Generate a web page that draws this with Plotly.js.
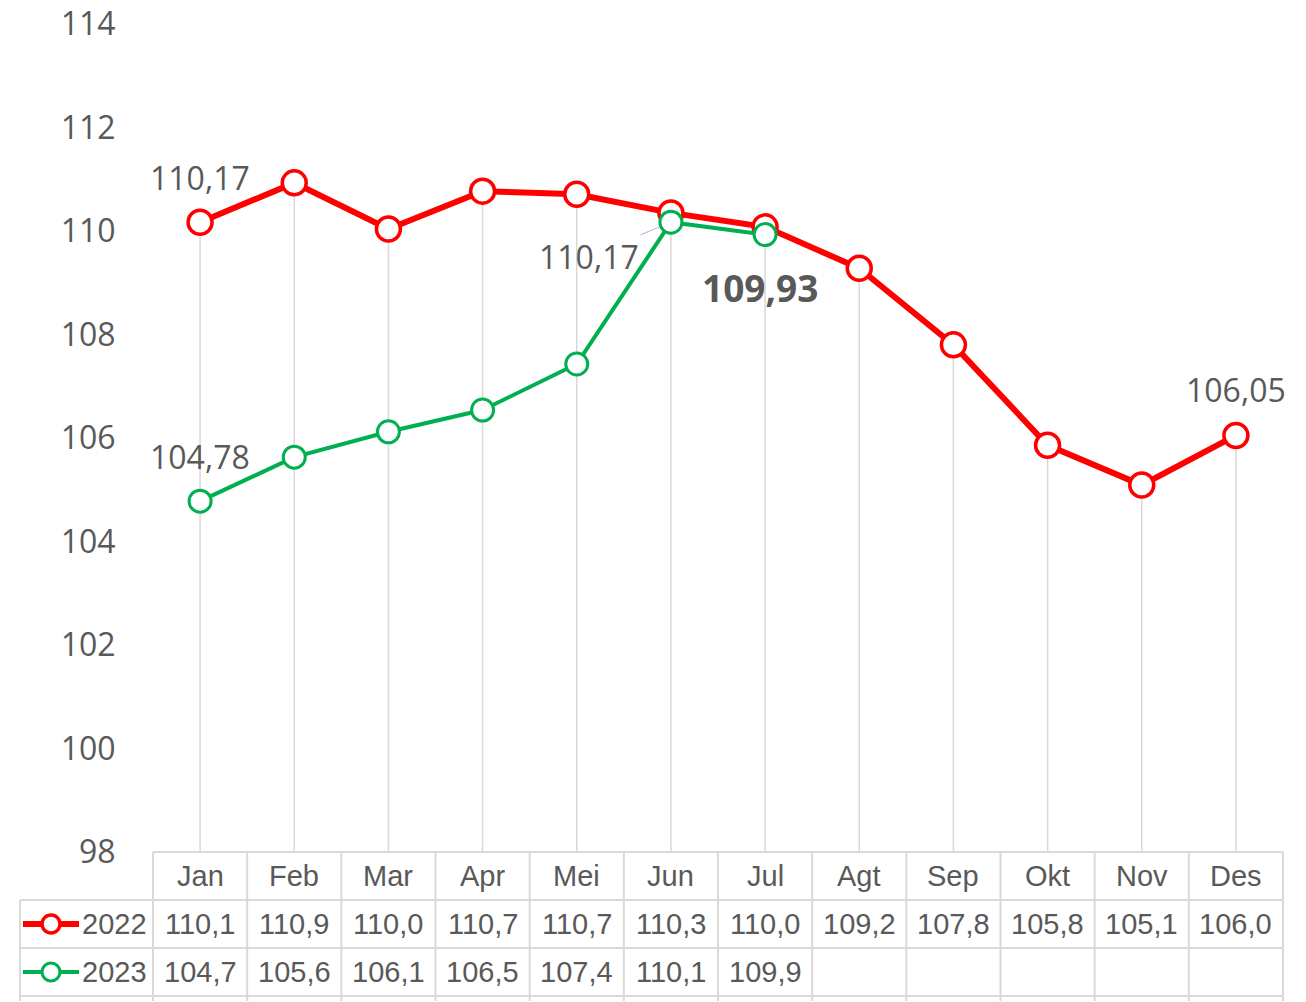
<!DOCTYPE html>
<html>
<head>
<meta charset="utf-8">
<script src="https://cdn.plot.ly/plotly-3.0.1.min.js"></script>
<style>html,body{margin:0;padding:0;background:#fff;}#chart{width:1306px;height:1002px;}</style>
</head>
<body>
<div id="chart"></div>
<script>
// ---- data ----
const months = ['Jan','Feb','Mar','Apr','Mei','Jun','Jul','Agt','Sep','Okt','Nov','Des'];
const seriesNames = ['2022','2023'];
const values2022 = [110.17,110.93,110.04,110.77,110.71,110.35,110.08,109.28,107.80,105.86,105.09,106.05];
const values2023 = [104.78,105.63,106.12,106.54,107.43,110.17,109.93];
const table2022 = ['110,1','110,9','110,0','110,7','110,7','110,3','110,0','109,2','107,8','105,8','105,1','106,0'];
const table2023 = ['104,7','105,6','106,1','106,5','107,4','110,1','109,9','','','','',''];
const yTicks = [98,100,102,104,106,108,110,112,114];

const RED = '#ff0000', GREEN = '#00b050', GRAY = '#595959', LINE = '#d9d9d9';
const W = 1306, H = 1002, L = 153, R = 23, T = 24, B = 150;
const PW = W - L - R, PH = H - T - B;
const px2x = p => (p - L) / PW;       // pixel -> paper x
const py2y = p => (H - B - p) / PH;   // pixel -> paper y
const fmt = v => v.toFixed(2).replace('.', ',');
const tableFont = 'Liberation Sans, Arial, sans-serif';
const labelFont = 'Open Sans, Noto Sans, sans-serif';
const TS = 29;

const traces = [
  {x: months, y: values2022, name: seriesNames[0], type: 'scatter', mode: 'lines+markers',
   line: {color: RED, width: 6}, cliponaxis: false,
   marker: {symbol: 'circle', size: 24, color: '#ffffff', line: {color: RED, width: 3.5}}},
  {x: months.slice(0, values2023.length), y: values2023, name: seriesNames[1], type: 'scatter', mode: 'lines+markers',
   line: {color: GREEN, width: 4}, cliponaxis: false,
   marker: {symbol: 'circle', size: 22, color: '#ffffff', line: {color: GREEN, width: 3}}}
];

const shapes = [];
// drop lines
months.forEach((m, i) => {
  const top = Math.max(values2022[i], i < values2023.length ? values2023[i] : -Infinity);
  shapes.push({type: 'line', xref: 'x', yref: 'y', x0: m, x1: m, y0: yTicks[0], y1: top,
               line: {color: LINE, width: 1.5}, layer: 'below'});
});
// data table grid
const rowTop = 852, rowH = 48, leftX = 20;
const tl = (x0, y0, x1, y1) => shapes.push({type: 'line', xref: 'paper', yref: 'paper',
  x0: px2x(x0), x1: px2x(x1), y0: py2y(y0), y1: py2y(y1), line: {color: LINE, width: 2}});
tl(L, rowTop, W - R, rowTop);
for (let r = 1; r <= 3; r++) tl(leftX, rowTop + r * rowH, W - R, rowTop + r * rowH);
tl(L, rowTop, L, rowTop + 3 * rowH);
tl(leftX, rowTop + rowH, leftX, rowTop + 3 * rowH);
for (let i = 1; i <= months.length; i++) {
  const xp = L + PW * i / months.length;
  tl(xp, rowTop, xp, rowTop + 3 * rowH);
  tl(xp, rowTop + 3 * rowH, xp, rowTop + 3 * rowH + 5);
}
tl(L, rowTop + 3 * rowH, L, rowTop + 3 * rowH + 5);
tl(leftX, rowTop + 3 * rowH, leftX, rowTop + 3 * rowH + 5);
// legend keys in table
[[RED, 3.5, 6], [GREEN, 3, 4]].forEach(([c, bw, lw], k) => {
  const cy = rowTop + (k + 1.5) * rowH;
  shapes.push({type: 'line', xref: 'paper', yref: 'paper', x0: px2x(23), x1: px2x(79),
    y0: py2y(cy), y1: py2y(cy), line: {color: c, width: lw}});
  shapes.push({type: 'circle', xref: 'paper', yref: 'paper', x0: px2x(42), x1: px2x(60),
    y0: py2y(cy - 9), y1: py2y(cy + 9), fillcolor: '#ffffff', line: {color: c, width: bw}});
});

const annotations = [];
// table texts
months.forEach((m, i) => {
  annotations.push({xref: 'x', yref: 'paper', x: m, y: py2y(rowTop + 0.5 * rowH), text: m, showarrow: false,
    font: {family: tableFont, size: TS, color: GRAY}, yanchor: 'middle'});
  annotations.push({xref: 'x', yref: 'paper', x: m, y: py2y(rowTop + 1.5 * rowH), text: table2022[i], showarrow: false,
    font: {family: tableFont, size: TS, color: GRAY}, yanchor: 'middle'});
  if (table2023[i]) annotations.push({xref: 'x', yref: 'paper', x: m, y: py2y(rowTop + 2.5 * rowH), text: table2023[i], showarrow: false,
    font: {family: tableFont, size: TS, color: GRAY}, yanchor: 'middle'});
});
seriesNames.forEach((s, k) => {
  annotations.push({xref: 'paper', yref: 'paper', x: px2x(114), y: py2y(rowTop + (k + 1.5) * rowH), text: s,
    showarrow: false, font: {family: tableFont, size: TS, color: GRAY}, xanchor: 'center', yanchor: 'middle'});
});
// data labels
const lab = (x, y, opts) => annotations.push(Object.assign({xref: 'x', yref: 'y', x: x, y: y, text: fmt(y),
  showarrow: false, font: {family: labelFont, size: 32, color: GRAY}}, opts));
lab(months[0], values2022[0], {yshift: 45});
lab(months[11], values2022[11], {yshift: 46});
lab(months[0], values2023[0], {yshift: 45});
lab(months[5], values2023[5], {showarrow: true, ax: -82, ay: 34, arrowhead: 0, arrowwidth: 1,
  arrowcolor: '#a6b4d6', standoff: 12});
lab(months[6], values2023[6], {yshift: -53, xshift: -5, font: {family: labelFont, size: 37, color: GRAY},
  text: '<b>' + fmt(values2023[6]) + '</b>'});

const layout = {
  width: W, height: H,
  margin: {l: L, r: R, t: T, b: B, pad: 0},
  paper_bgcolor: '#ffffff', plot_bgcolor: '#ffffff',
  showlegend: false,
  font: {family: labelFont, color: GRAY},
  xaxis: {type: 'category', categoryarray: months, range: [-0.5, months.length - 0.5],
    showticklabels: false, showgrid: false, zeroline: false, showline: false, ticks: ''},
  yaxis: {range: [yTicks[0], yTicks[yTicks.length - 1]], tickvals: yTicks, ticktext: yTicks.map(String),
    showgrid: false, zeroline: false, showline: false, ticks: 'outside', ticklen: 30, tickcolor: 'rgba(0,0,0,0)',
    tickfont: {family: labelFont, size: 32, color: GRAY}},
  shapes: shapes,
  annotations: annotations
};

Plotly.newPlot('chart', traces, layout, {displayModeBar: false, staticPlot: true});
</script>
</body>
</html>
